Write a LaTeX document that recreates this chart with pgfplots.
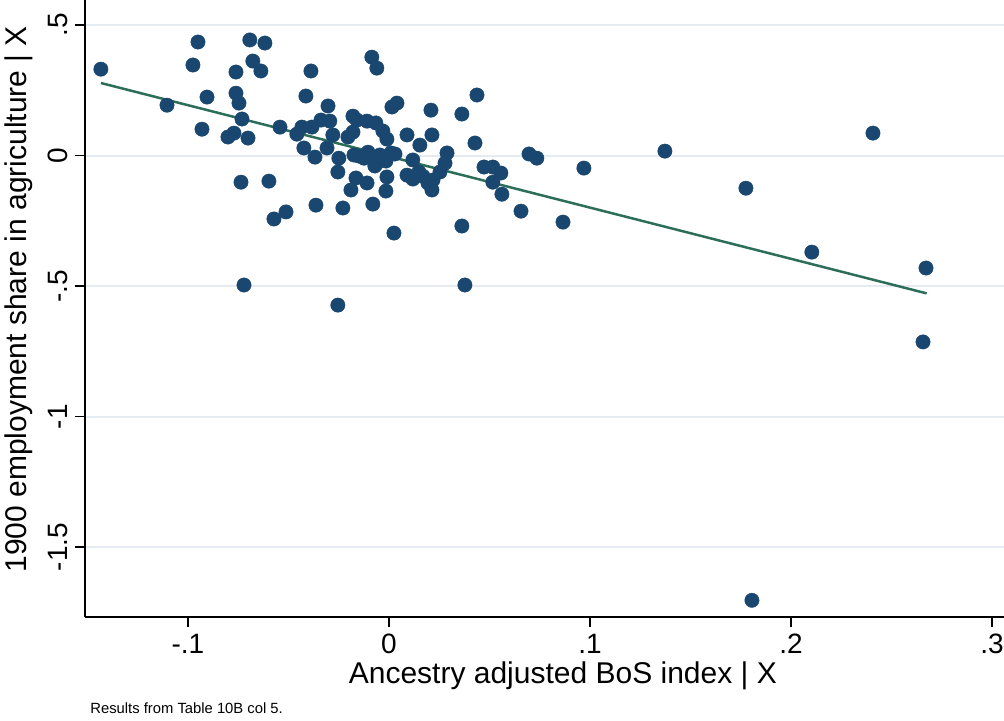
\documentclass[border=0pt]{standalone}
\usepackage{fontspec}
\setmainfont{Liberation Sans}
\usepackage{pgfplots}
\pgfplotsset{compat=1.18}
\definecolor{stnavy}{RGB}{26,71,111}
\definecolor{stgreen}{RGB}{45,110,90}
\definecolor{stgrid}{RGB}{229,235,240}
\begin{document}
\begin{tikzpicture}
\begin{axis}[
  scale only axis, width=459.5pt, height=308.5pt,
  xmin=-0.1512, xmax=0.306, ymin=-1.768, ymax=0.596,
  axis x line*=bottom, axis y line*=left,
  axis line style={-, black, line width=0.75pt},
  xtick={-0.1,0,0.1,0.2,0.3}, xticklabels={-.1,0,.1,.2,.3},
  ytick={-1.5,-1,-0.5,0,0.5}, yticklabels={-1.5,-1,-.5,0,.5},
  tick align=outside, major tick length=5pt,
  tick style={black, line width=0.75pt},
  ymajorgrids, grid style={stgrid, line width=1pt},
  xticklabel style={font=\fontsize{14}{16}\selectfont},
  yticklabel style={rotate=90, anchor=south, font=\fontsize{14}{16}\selectfont},
  xlabel={Ancestry adjusted BoS index | X},
  ylabel={1900 employment share in agriculture | X},
  every axis x label/.style={at={(axis description cs:0.52,-0.096)}, anchor=center, font=\fontsize{15}{17}\selectfont},
  every axis y label/.style={at={(axis description cs:-0.072,0.515)}, rotate=90, anchor=center, font=\fontsize{15}{17}\selectfont},
  clip=false,
]
\addplot[only marks, mark=*, mark size=3.6pt, mark options={fill=stnavy, draw=stnavy, line width=0.2pt}] table {
x y
-0.1433 0.331
-0.1104 0.193
-0.0975 0.347
-0.0950 0.435
-0.0905 0.224
-0.0930 0.101
-0.0761 0.320
-0.0692 0.443
-0.0617 0.431
-0.0677 0.362
-0.0637 0.324
-0.0761 0.239
-0.0746 0.201
-0.0731 0.140
-0.0801 0.071
-0.0771 0.086
-0.0701 0.067
-0.0736 -0.102
-0.0597 -0.098
-0.0572 -0.243
-0.0512 -0.216
-0.0721 -0.496
-0.0542 0.109
-0.0458 0.082
-0.0433 0.109
-0.0423 0.029
-0.0413 0.228
-0.0383 0.109
-0.0388 0.324
-0.0368 -0.006
-0.0363 -0.190
-0.0338 0.136
-0.0303 0.190
-0.0294 0.132
-0.0308 0.029
-0.0279 0.079
-0.0249 -0.010
-0.0254 -0.063
-0.0229 -0.201
-0.0254 -0.573
-0.0204 0.071
-0.0189 -0.132
-0.0179 0.151
-0.0179 0.090
-0.0159 0.136
-0.0164 -0.086
-0.0174 0.002
-0.0149 -0.002
-0.0124 -0.010
-0.0109 0.132
-0.0109 -0.105
-0.0104 0.013
-0.0085 0.377
-0.0060 0.335
-0.0065 0.125
-0.0070 -0.040
-0.0060 -0.029
-0.0080 -0.186
-0.0045 0.002
-0.0030 0.094
-0.0015 -0.021
-0.0010 0.063
-0.0010 -0.082
-0.0015 -0.136
0.0010 0.010
0.0015 0.186
0.0040 0.201
0.0025 -0.297
0.0030 0.006
0.0090 0.079
0.0090 -0.075
0.0119 -0.017
0.0119 -0.090
0.0154 0.040
0.0149 -0.063
0.0169 -0.079
0.0194 -0.105
0.0209 0.174
0.0214 0.079
0.0214 -0.132
0.0219 -0.094
0.0254 -0.063
0.0279 -0.029
0.0289 0.010
0.0363 0.159
0.0363 -0.270
0.0378 -0.496
0.0428 0.048
0.0438 0.232
0.0473 -0.044
0.0517 -0.044
0.0517 -0.102
0.0557 -0.067
0.0562 -0.148
0.0657 -0.213
0.0697 0.006
0.0736 -0.010
0.0866 -0.255
0.0970 -0.048
0.1373 0.017
0.1776 -0.125
0.2104 -0.370
0.2408 0.086
0.2672 -0.431
0.2657 -0.714
0.1806 -1.704
};
\addplot[stgreen, line width=1.25pt] table {
x y
-0.1433 0.278
0.2675 -0.528
};
\node[anchor=west, inner sep=0pt, font=\fontsize{7.4}{9}\selectfont] at (axis description cs:0.0054,-0.1475) {Results from Table 10B col 5.};
\end{axis}
\pgfresetboundingbox
\path[use as bounding box] ([xshift=-42.5pt,yshift=-51.5pt]current axis.south west) rectangle (current axis.north east);
\end{tikzpicture}
\end{document}
